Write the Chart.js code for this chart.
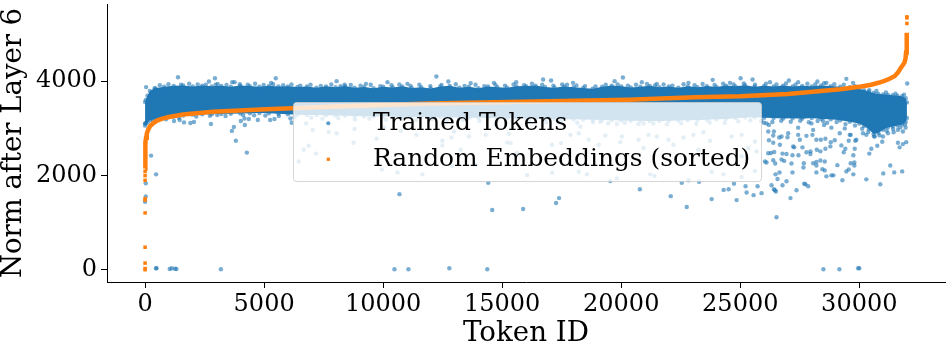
<!DOCTYPE html>
<html>
<head>
<meta charset="utf-8">
<style>
  html, body { margin: 0; padding: 0; background: #fff; }
  canvas { display: block; }
</style>
<script src="https://cdn.jsdelivr.net/npm/chart.js@4"></script>
</head>
<body>
<canvas id="chart" width="949" height="341"></canvas>
<script>
// --- Data ---

const seriesLabels = ["Trained Tokens", "Random Embeddings (sorted)"];
const xLabel = "Token ID";
const yLabel = "Norm after Layer 6";
const xTicks = [0, 5000, 10000, 15000, 20000, 25000, 30000];
const yTicks = [0, 2000, 4000];

// Dense part of the trained tokens: upper and lower edge of the cloud
const bandIds = [
  0, 30, 100, 200, 400, 800, 1200, 1600, 2000, 2400,
  2800, 3200, 3600, 4000, 4400, 4800, 5200, 5600, 6000, 6400,
  6800, 7200, 7600, 8000, 8400, 8800, 9200, 9600, 10000, 10400,
  10800, 11200, 11600, 12000, 12400, 12800, 13200, 13600, 14000, 14400,
  14800, 15200, 15600, 16000, 16400, 16800, 17200, 17600, 18000, 18400,
  18800, 19200, 19600, 20000, 20400, 20800, 21200, 21600, 22000, 22400,
  22800, 23200, 23600, 24000, 24400, 24800, 25200, 25600, 26000, 26400,
  26800, 27200, 27600, 28000, 28400, 28800, 29200, 29600, 30000, 30200,
  30400, 30600, 30800, 31000, 31200, 31400, 31600, 31800, 31950, 32000,
];
const bandUpper = [
  3560, 3600, 3690, 3790, 3850, 3880, 3900, 3910, 3885, 3905,
  3890, 3900, 3880, 3905, 3895, 3880, 3900, 3885, 3890, 3875,
  3885, 3860, 3890, 3870, 3895, 3860, 3875, 3850, 3880, 3865,
  3890, 3855, 3870, 3845, 3885, 3900, 3860, 3880, 3850, 3885,
  3870, 3860, 3890, 3895, 3905, 3875, 3860, 3885, 3870, 3855,
  3840, 3880, 3905, 3890, 3865, 3880, 3900, 3870, 3885, 3860,
  3890, 3870, 3895, 3875, 3905, 3890, 3915, 3880, 3900, 3885,
  3905, 3885, 3900, 3890, 3910, 3895, 3880, 3870, 3830, 3810,
  3780, 3750, 3730, 3720, 3710, 3700, 3690, 3680, 3640, 3550,
];
const bandLower = [
  3100, 3110, 3130, 3170, 3200, 3230, 3250, 3270, 3290, 3300,
  3300, 3305, 3310, 3315, 3320, 3325, 3320, 3310, 3300, 3290,
  3285, 3280, 3275, 3270, 3265, 3260, 3255, 3250, 3250, 3245,
  3245, 3240, 3240, 3235, 3235, 3230, 3230, 3225, 3225, 3220,
  3220, 3215, 3215, 3210, 3205, 3200, 3200, 3195, 3190, 3185,
  3180, 3175, 3170, 3165, 3160, 3160, 3155, 3155, 3160, 3165,
  3170, 3175, 3180, 3190, 3200, 3215, 3230, 3235, 3225, 3220,
  3210, 3215, 3205, 3220, 3200, 3190, 3170, 3140, 3100, 3050,
  2980, 2880, 2900, 2970, 3020, 3040, 3060, 3080, 3140, 3220,
];

// Loose tokens on the rim of the cloud, as [token id, norm]
const upperRimTokens = [
  [620, 3915], [980, 3935], [1510, 3925], [1850, 3945], [2210, 3930], [2550, 3925], [3050, 3940], [3420, 3920],
  [3980, 3935], [4310, 3925], [4620, 3945], [4980, 3920], [5380, 3935], [5800, 3915], [6150, 3930], [6520, 3905],
  [6950, 3925], [7380, 3900], [7820, 3930], [8210, 3895], [8640, 3920], [9050, 3905], [9480, 3925], [9880, 3895],
  [10350, 3915], [10680, 3930], [11150, 3900], [11520, 3925], [11980, 3895], [12450, 3920], [13050, 3935], [13420, 3900],
  [13880, 3925], [14250, 3895], [14720, 3920], [15120, 3905], [15480, 3930], [15920, 3915], [16250, 3945], [16680, 3925],
  [17150, 3905], [17520, 3930], [18120, 3910], [18480, 3895], [18920, 3885], [19350, 3925], [19850, 3930], [20280, 3905],
  [20620, 3925], [21080, 3940], [21420, 3910], [21780, 3930], [22150, 3905], [22620, 3935], [23080, 3915], [23420, 3940],
  [23920, 3920], [24280, 3945], [24720, 3930], [25150, 3950], [25620, 3925], [26080, 3945], [26520, 3930], [26920, 3950],
  [27320, 3925], [27820, 3945], [28150, 3930], [28520, 3955], [28950, 3935], [29350, 3925], [29820, 3895], [30420, 3810],
  [30720, 3790], [31120, 3760], [31520, 3735], [31880, 3715],
];
const lowerRimTokens = [
  [320, 3165], [880, 3190], [1420, 3225], [2150, 3250], [2720, 3265], [3380, 3260], [4120, 3280], [4580, 3275],
  [5050, 3270], [5620, 3260], [6280, 3235], [6980, 3225], [7450, 3205], [8120, 3215], [8820, 3190], [9420, 3205],
  [10120, 3185], [10750, 3195], [11380, 3175], [12050, 3190], [12680, 3165], [13350, 3180], [14050, 3155], [14780, 3170],
  [15420, 3145], [16120, 3160], [16850, 3130], [17450, 3150], [18150, 3120], [18820, 3135], [19450, 3105], [20150, 3120],
  [20720, 3090], [21350, 3105], [21920, 3085], [22520, 3110], [23150, 3095], [23720, 3125], [24350, 3120], [24920, 3150],
  [25420, 3170], [25880, 3155], [26350, 3135], [26720, 3160], [27120, 3140], [27520, 3160], [27880, 3130], [28250, 3155],
  [28650, 3120], [29050, 3135], [29420, 3090], [29820, 3060], [30120, 2990], [30380, 2920], [30620, 2830], [30850, 2850],
  [31150, 2950], [31420, 2985], [31720, 3020], [31920, 3080],
];

// Single tokens outside the cloud, as [token id, norm]
const topTokens = [
  [1383, 4083], [2933, 4062], [2682, 3993], [5489, 4062], [42, 3874], [436, 3847], [3758, 3979], [3662, 3979],
  [5295, 3964], [2962, 3922], [12235, 4098], [8045, 4000], [10182, 3979], [11020, 3943], [12738, 3993], [13676, 3958],
  [14653, 3964], [15587, 3979], [8380, 3922], [9277, 3943], [16718, 4035], [17053, 4014], [20070, 4077], [19722, 4000],
  [17975, 3964], [20866, 3979], [23841, 4027], [17724, 3922], [21495, 3943], [22823, 3964], [25015, 4062], [25517, 4035],
  [29456, 4048], [28241, 3993], [26247, 3979], [24570, 3964], [27042, 4014], [27432, 3979], [28618, 3964], [29737, 3964],
  [32012, 3951],
];
const leftTokens = [
  [1215, 3155], [1634, 3126], [1902, 3114], [2053, 3135], [2766, 3093], [4022, 3155], [4190, 3072], [3729, 3030],
  [3645, 2946], [3813, 2737], [4274, 2486], [251, 2423], [4177, 3210], [4358, 3198], [4735, 3177], [5253, 3177],
  [5434, 3198], [6105, 3210], [3032, 3281], [1454, 3177], [17, 3105], [0, 3057], [6159, 3120], [461, 2025],
  [29, 1836], [29, 1556], [0, 1445],
];
const zeroTokens = [
  [478, 36], [460, 36], [1035, 21], [1119, 36], [1257, 27], [1316, 21], [3184, 15], [10475, 15],
  [11062, 15], [12780, 36], [14372, 15], [28492, 15], [29163, 15], [29950, 36], [30001, 36],
];
const lowTokens = [
  [10685, 1606], [14581, 1271], [15880, 1292], [17263, 1418], [17389, 1522], [14414, 1849], [20783, 1711], [22081, 1564],
  [22752, 1334], [23799, 1501], [24302, 1696], [24512, 1711], [24847, 1480], [25224, 1774], [25266, 1640], [25559, 1585],
  [25727, 1774], [25894, 1627], [26313, 1795], [26456, 1690], [26498, 1661], [26523, 1116], [27110, 1522], [27362, 1690],
  [27739, 1815], [27852, 1774], [29290, 1899], [30295, 1920], [30881, 1815], [31300, 2213], [31006, 2046], [31467, 2067],
  [31802, 2088], [26413, 1711], [26774, 1795], [26943, 1878], [26565, 1926], [26481, 2025], [26649, 2067], [27194, 2067],
  [27684, 1828], [28198, 2067], [28618, 1983], [28827, 2004], [28911, 2004], [29749, 2025], [29456, 2088], [29557, 2130],
  [24737, 1828],
];
const rightTokens = [
  [26037, 2297], [26104, 2276], [26385, 2324], [26469, 2255], [26733, 2339], [26845, 2310], [27152, 2255], [27671, 2262],
  [27654, 2171], [28061, 2262], [28198, 2289], [28198, 2213], [28366, 2318], [28551, 2297], [28450, 2136], [28551, 2109],
  [29079, 2220], [29640, 2262], [29791, 2276], [29791, 2213], [26175, 2471], [26288, 2477], [26427, 2498], [26774, 2465],
  [26943, 2456], [27194, 2429], [27445, 2429], [27780, 2492], [27948, 2513], [27948, 2456], [28215, 2548], [28366, 2513],
  [28576, 2569], [28785, 2618], [29347, 2492], [29414, 2569], [29749, 2429], [30420, 2465], [30504, 2569], [30755, 2632],
  [30964, 2716], [31694, 2597], [31970, 2708], [31831, 2666], [26385, 2695], [26666, 2653], [26636, 2806], [26733, 2827],
  [27222, 2618], [27264, 2597], [27612, 2597], [26204, 2749], [26984, 2812], [27432, 2862], [27780, 2841], [28031, 2862],
  [28198, 2758], [28383, 2758], [28576, 2778], [28801, 2708], [28969, 2749], [29246, 2639], [29557, 2737], [29640, 2862],
  [29833, 2737], [29808, 2569], [31622, 2695], [25994, 3120], [26104, 3105], [26204, 3072], [26175, 2932], [26413, 2932],
  [26385, 2848], [27013, 2896], [27432, 3015], [27503, 2758], [27990, 3105], [28061, 2967], [28479, 3155], [28521, 3072],
  [28827, 3015], [29179, 2896], [29389, 2999], [29599, 2862], [29875, 2758], [30295, 2862], [30155, 2896], [30646, 2827],
  [30994, 2827], [31203, 2896], [31831, 2932], [31945, 3015], [31622, 2967], [31442, 2917],
];
// These sit behind the legend box in the picture
const middleTokens = [
  [6763, 3105], [7039, 2967], [7710, 2925], [8045, 2896], [8757, 2695], [8799, 2988], [9721, 2778], [6872, 2632],
  [6662, 2548], [7182, 2465], [6453, 2297], [9947, 2130], [10601, 2067], [11648, 2025], [11397, 2862], [12486, 2737],
  [12486, 2639], [12863, 2806], [13605, 2827], [13257, 2548], [12905, 2199], [14304, 2862], [15210, 2701], [15352, 2687],
  [15281, 2883], [15629, 2477], [15910, 2339], [16048, 2010], [13886, 2234], [10043, 3015], [10743, 2946], [14723, 3072],
  [12977, 2932], [19122, 3141], [19818, 3093], [20937, 3105], [18285, 3036], [17866, 2862], [18214, 2896], [18633, 2758],
  [19332, 2848], [20028, 2827], [19960, 2708], [20728, 2758], [21147, 2862], [21495, 2827], [21985, 2758], [22613, 2806],
  [23032, 2862], [23451, 2917], [23732, 2737], [24637, 2827], [25056, 2862], [25616, 2722], [17095, 2653], [17472, 2687],
  [19051, 2653], [20937, 2582], [22194, 2653], [23242, 2548], [25056, 2408], [25337, 2582], [25685, 2513], [18214, 2080],
  [18562, 2025], [17095, 2059], [19542, 1885], [19818, 1941], [21218, 2025], [21398, 1989], [22823, 1899], [23271, 1870],
  [23799, 2080], [24289, 2025], [25056, 1968], [25616, 2094], [22543, 1849],
];

// Sorted random embeddings
const curveIds = [
  0, 5, 10, 20, 40, 70, 126, 200, 336, 500,
  756, 1000, 1596, 2856, 5096, 8000, 11930, 17500, 20300, 23100,
  25000, 27000, 28270, 29200, 30080, 30500, 30800, 31060, 31250, 31480,
  31620, 31760, 31830, 31900, 31940, 31965, 31985, 32000,
];
const curveNorms = [
  2150, 2350, 2500, 2700, 2800, 2890, 2967, 3040, 3106, 3165,
  3211, 3240, 3295, 3351, 3407, 3465, 3524, 3580, 3608, 3658,
  3679, 3730, 3784, 3830, 3888, 3925, 3965, 4006, 4045, 4104,
  4180, 4293, 4340, 4397, 4470, 4607, 4800, 5026,
];
const curveLowIds = [0, 0, 0, 0, 0, 0, 0, 0, 0, 0];
const curveLowNorms = [5, 30, 146, 482, 1208, 1480, 1510, 1899, 2000, 2090];
const curveHighIds = [32000, 32000, 32000];
const curveHighNorms = [5222, 5340, 5361];

// --- Chart ---

const BLUE = "#1f77b4";
const ORANGE = "#ff7f0e";
const FONT = "'DejaVu Serif', serif";

function toPoints(ids, norms) {
  return ids.map((id, i) => ({ x: id, y: norms[i] }));
}

function pairsToPoints(pairs) {
  return pairs.map((p) => ({ x: p[0], y: p[1] }));
}

const dotStyle = {
  showLine: false,
  pointRadius: 2.2,
  pointBorderWidth: 0,
  pointBackgroundColor: "rgba(31, 119, 180, 0.6)",
};

// No auto padding round the plot, the box is fixed to the reference
function fixSize(scale, width, height) {
  if (width) scale.width = width;
  if (height) scale.height = height;
  scale.paddingTop = scale.paddingBottom = scale.paddingLeft = scale.paddingRight = 0;
}

// Legend goes over the data with a see-through box, the built-in one cannot do that
const boxLegend = {
  id: "boxLegend",
  afterDatasetsDraw(chart) {
    const c = chart.ctx;
    c.save();
    c.beginPath();
    c.roundRect(293.5, 102.5, 468, 79, 3);
    c.fillStyle = "rgba(255, 255, 255, 0.8)";
    c.fill();
    c.strokeStyle = "rgba(204, 204, 204, 0.8)";
    c.lineWidth = 1;
    c.stroke();

    c.fillStyle = "rgba(31, 119, 180, 0.75)";
    c.beginPath();
    c.arc(328.3, 123.3, 2, 0, Math.PI * 2);
    c.fill();
    c.fillStyle = ORANGE;
    c.fillRect(326.7, 157.7, 3.2, 3.2);

    c.fillStyle = "#000";
    c.font = "24.9px " + FONT;
    c.textBaseline = "alphabetic";
    c.fillText(seriesLabels[0], 373, 130);
    c.fillText(seriesLabels[1], 373, 166);
    c.restore();
  },
};

new Chart(document.getElementById("chart"), {
  type: "scatter",
  data: {
    datasets: [
      {
        label: "band top",
        data: toPoints(bandIds, bandUpper),
        ...dotStyle,
        showLine: true,
        borderWidth: 0,
        borderColor: BLUE,
        fill: "+1",
        backgroundColor: BLUE,
        order: 5,
      },
      {
        label: "band bottom",
        data: toPoints(bandIds, bandLower),
        ...dotStyle,
        showLine: true,
        borderWidth: 0,
        borderColor: BLUE,
        order: 4,
      },
      {
        label: seriesLabels[0],
        data: pairsToPoints([
          ...upperRimTokens, ...lowerRimTokens, ...topTokens, ...leftTokens,
          ...zeroTokens, ...lowTokens, ...rightTokens, ...middleTokens,
        ]),
        ...dotStyle,
        order: 3,
      },
      {
        label: seriesLabels[1],
        data: toPoints(curveIds, curveNorms),
        showLine: true,
        borderColor: ORANGE,
        borderWidth: 4.5,
        pointRadius: 0,
        order: 2,
      },
      {
        label: "curve ends",
        data: [...toPoints(curveLowIds, curveLowNorms), ...toPoints(curveHighIds, curveHighNorms)],
        showLine: false,
        pointStyle: "rect",
        pointRadius: 2.5,
        pointBorderWidth: 0,
        pointBackgroundColor: ORANGE,
        order: 1,
      },
    ],
  },
  options: {
    responsive: false,
    animation: false,
    events: [],
    layout: { padding: { top: 1, right: 1, bottom: 0, left: 0 } },
    plugins: {
      legend: { display: false },
      tooltip: { enabled: false },
    },
    scales: {
      x: {
        type: "linear",
        min: -1600,
        max: 33600,
        afterFit: (scale) => fixSize(scale, 0, 59),
        afterBuildTicks: (scale) => { scale.ticks = xTicks.map((v) => ({ value: v })); },
        border: { color: "#000", width: 1 },
        grid: { drawOnChartArea: false, drawTicks: true, tickLength: 6, tickColor: "#000" },
        ticks: {
          color: "#000",
          font: { family: FONT, size: 24 },
          padding: 2,
          maxRotation: 0,
          autoSkip: false,
          callback: (v) => String(v),
        },
        title: {
          display: true,
          text: xLabel,
          color: "#000",
          font: { family: FONT, size: 27.7 },
          padding: { top: 0, bottom: -9 },
        },
      },
      y: {
        type: "linear",
        min: -255,
        max: 5634,
        afterFit: (scale) => fixSize(scale, 107, 0),
        afterBuildTicks: (scale) => { scale.ticks = yTicks.map((v) => ({ value: v })); },
        border: { color: "#000", width: 1 },
        grid: { drawOnChartArea: false, drawTicks: true, tickLength: 6, tickColor: "#000" },
        ticks: {
          color: "#000",
          font: { family: FONT, size: 24 },
          padding: 4,
          autoSkip: false,
          callback: (v) => String(v),
        },
        title: {
          display: true,
          text: yLabel,
          color: "#000",
          font: { family: FONT, size: 27.5 },
          padding: { top: -3, bottom: 0 },
        },
      },
    },
  },
  plugins: [boxLegend],
});
</script>
</body>
</html>
